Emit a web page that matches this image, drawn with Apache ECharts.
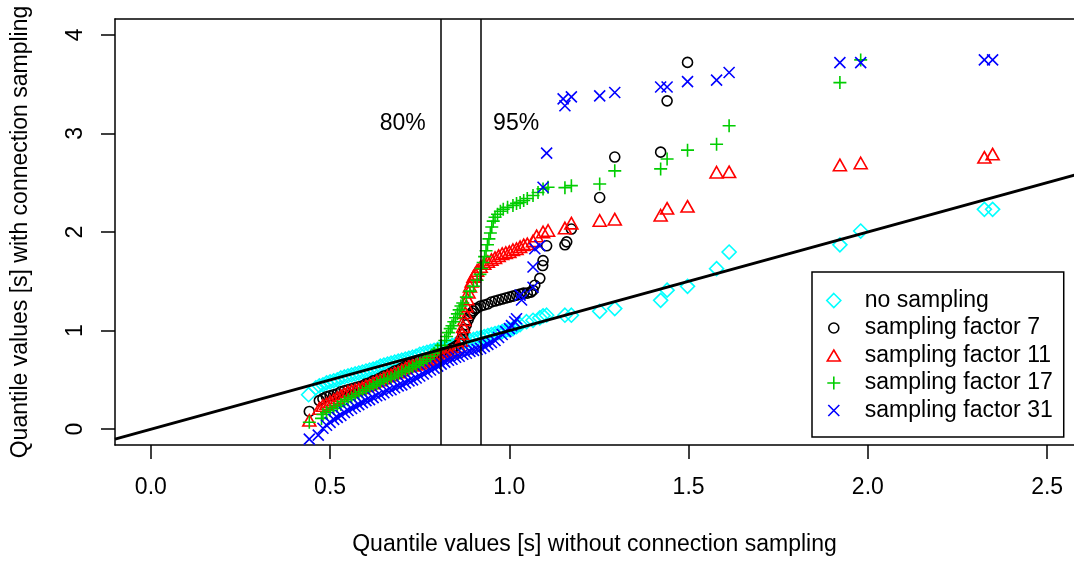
<!DOCTYPE html>
<html>
<head>
<meta charset="utf-8">
<script src="https://cdn.jsdelivr.net/npm/echarts@6/dist/echarts.min.js"></script>
<style>
  html, body { margin: 0; padding: 0; background: #fff; }
  #chart { width: 1074px; height: 561px; }
</style>
</head>
<body>
<div id="chart"></div>
<script>
// ---------------- data ----------------
const seriesNames = ['no sampling', 'sampling factor 7', 'sampling factor 11', 'sampling factor 17', 'sampling factor 31'];

const cyanX = [0.44, 0.46,0.47,0.48,0.49,0.50,0.51,0.52,0.53,0.54,0.55,0.56,0.57,0.58,0.59,0.60,0.61,0.62,0.63,0.64,0.65,0.66,0.67,0.68,0.69,0.70,0.71,0.72,0.73,0.74,0.75,0.76,0.77,0.78,0.79,0.80,0.81,0.82,0.83,0.84,0.85,0.86,0.87,0.88,0.89,0.90,0.91,0.92,0.93,0.94,0.95,0.96,0.97,0.98,0.99,1.00,1.01,1.02,1.03,1.048,1.066,1.085,1.094,1.104,1.155,1.173,1.252,1.294,1.422,1.44,1.497,1.578,1.613,1.922,1.98,2.325,2.348];
const cyanY = [0.35, 0.42,0.44,0.45,0.47,0.48,0.49,0.50,0.52,0.53,0.54,0.55,0.56,0.57,0.58,0.59,0.60,0.61,0.62,0.64,0.65,0.66,0.67,0.68,0.69,0.70,0.71,0.72,0.73,0.74,0.76,0.77,0.78,0.79,0.80,0.81,0.82,0.83,0.84,0.85,0.86,0.87,0.88,0.89,0.90,0.91,0.92,0.93,0.94,0.95,0.96,0.97,0.98,0.99,1.00,1.01,1.02,1.04,1.06,1.09,1.105,1.13,1.15,1.156,1.156,1.156,1.196,1.223,1.307,1.41,1.449,1.628,1.797,1.87,2.01,2.23,2.23];

const blackX = [0.442, 0.47,0.48,0.49,0.50,0.51,0.52,0.53,0.54,0.55,0.56,0.57,0.58,0.59,0.60,0.61,0.62,0.63,0.64,0.65,0.66,0.67,0.68,0.69,0.70,0.71,0.72,0.73,0.74,0.75,0.76,0.77,0.78,0.79,0.80,0.81,0.82,0.83,0.84,0.85,0.86,0.865,0.87,0.875,0.88,0.885,0.89,0.895,0.90,0.905,0.91,0.92,0.93,0.94,0.95,0.96,0.97,0.98,0.99,1.00,1.01,1.02,1.03,1.04,1.05,1.06,1.066,1.071,1.085,1.093,1.094,1.104,1.155,1.16,1.173,1.252,1.294,1.422,1.44,1.497];
const blackY = [0.18, 0.29,0.31,0.33,0.34,0.35,0.36,0.38,0.39,0.40,0.41,0.42,0.43,0.44,0.46,0.47,0.49,0.50,0.52,0.54,0.55,0.57,0.59,0.60,0.62,0.64,0.66,0.67,0.69,0.70,0.71,0.72,0.73,0.74,0.76,0.77,0.78,0.80,0.82,0.84,0.87,0.91,0.96,1.01,1.06,1.11,1.15,1.18,1.20,1.22,1.23,1.25,1.26,1.27,1.29,1.30,1.31,1.32,1.33,1.34,1.35,1.36,1.37,1.38,1.38,1.39,1.41,1.46,1.53,1.66,1.71,1.86,1.87,1.90,2.03,2.35,2.76,2.81,3.33,3.72];

const redX = [0.442, 0.47,0.48,0.49,0.50,0.51,0.52,0.53,0.54,0.55,0.56,0.57,0.58,0.59,0.60,0.61,0.62,0.63,0.64,0.65,0.66,0.67,0.68,0.69,0.70,0.71,0.72,0.73,0.74,0.75,0.76,0.77,0.78,0.79,0.80,0.81,0.82,0.83,0.84,0.85,0.86,0.865,0.868,0.871,0.874,0.877,0.88,0.883,0.886,0.89,0.895,0.90,0.905,0.91,0.92,0.93,0.94,0.95,0.96,0.97,0.98,0.99,1.00,1.01,1.02,1.03,1.04,1.05,1.066,1.076,1.094,1.108,1.155,1.173,1.252,1.294,1.422,1.44,1.497,1.578,1.613,1.922,1.98,2.325,2.348];
const redY = [0.09, 0.21,0.24,0.26,0.28,0.30,0.32,0.34,0.36,0.38,0.39,0.40,0.41,0.42,0.44,0.45,0.47,0.49,0.50,0.52,0.54,0.55,0.57,0.58,0.60,0.62,0.64,0.65,0.66,0.67,0.68,0.70,0.71,0.72,0.74,0.75,0.76,0.78,0.79,0.81,0.84,0.90,0.97,1.04,1.11,1.18,1.25,1.32,1.39,1.45,1.50,1.55,1.58,1.61,1.65,1.68,1.70,1.72,1.74,1.76,1.78,1.79,1.80,1.82,1.83,1.85,1.87,1.88,1.91,1.96,2.00,2.015,2.04,2.09,2.117,2.13,2.17,2.24,2.26,2.606,2.61,2.68,2.70,2.757,2.79];

const greenX = [0.442, 0.476,0.48,0.49,0.50,0.51,0.52,0.53,0.54,0.55,0.56,0.57,0.58,0.59,0.60,0.61,0.62,0.63,0.64,0.65,0.66,0.67,0.68,0.69,0.70,0.71,0.72,0.73,0.74,0.75,0.76,0.77,0.78,0.79,0.80,0.81,0.82,0.825,0.83,0.835,0.84,0.845,0.85,0.855,0.86,0.865,0.87,0.88,0.89,0.90,0.91,0.918,0.922,0.927,0.931,0.935,0.939,0.943,0.947,0.951,0.955,0.96,0.967,0.975,0.983,0.995,1.01,1.02,1.03,1.04,1.05,1.066,1.08,1.094,1.108,1.155,1.173,1.252,1.294,1.422,1.44,1.497,1.578,1.613,1.922,1.98];
const greenY = [0.07, 0.11,0.15,0.17,0.19,0.21,0.23,0.25,0.28,0.30,0.32,0.34,0.36,0.38,0.40,0.42,0.44,0.46,0.48,0.50,0.51,0.52,0.54,0.56,0.58,0.59,0.61,0.63,0.65,0.67,0.69,0.71,0.74,0.77,0.81,0.85,0.90,0.94,0.98,1.02,1.05,1.09,1.13,1.17,1.21,1.25,1.28,1.34,1.40,1.45,1.51,1.57,1.63,1.69,1.75,1.81,1.87,1.93,1.99,2.05,2.11,2.15,2.18,2.21,2.23,2.25,2.27,2.29,2.30,2.32,2.34,2.37,2.40,2.437,2.454,2.45,2.47,2.487,2.62,2.64,2.74,2.83,2.89,3.077,3.515,3.745];

const blueX = [0.442, 0.467,0.48,0.49,0.50,0.51,0.52,0.53,0.54,0.55,0.56,0.57,0.58,0.59,0.60,0.61,0.62,0.63,0.64,0.65,0.66,0.67,0.68,0.69,0.70,0.71,0.72,0.73,0.74,0.75,0.76,0.77,0.78,0.79,0.80,0.81,0.82,0.83,0.84,0.85,0.86,0.87,0.88,0.89,0.90,0.91,0.92,0.93,0.94,0.95,0.96,0.97,0.98,0.99,1.00,1.006,1.015,1.02,1.03,1.034,1.066,1.066,1.071,1.085,1.094,1.104,1.15,1.155,1.173,1.252,1.294,1.422,1.44,1.497,1.578,1.613,1.922,1.98,2.325,2.348];
const blueY = [-0.10, -0.06,0.01,0.04,0.07,0.10,0.12,0.14,0.17,0.19,0.21,0.23,0.25,0.27,0.29,0.30,0.32,0.34,0.35,0.37,0.39,0.40,0.42,0.44,0.45,0.47,0.49,0.50,0.52,0.54,0.56,0.58,0.60,0.62,0.64,0.66,0.68,0.70,0.71,0.73,0.74,0.76,0.77,0.79,0.80,0.81,0.82,0.84,0.86,0.88,0.90,0.93,0.96,0.99,1.02,1.05,1.09,1.12,1.36,1.31,1.44,1.645,1.83,1.86,2.454,2.80,3.35,3.28,3.37,3.38,3.415,3.47,3.47,3.525,3.54,3.617,3.718,3.718,3.745,3.745];

const refLineX = [-0.1, 2.6];           // abline(0, 1): y = x
const quantX = [0.806, 0.924];          // 80% and 95% quantiles
const quantLabels = ['80%', '95%'];
const quantLabelY = 3.1;
const xTicks = [0, 0.5, 1, 1.5, 2, 2.5];
const yTicks = [0, 1, 2, 3, 4];

// ---------------- chart ----------------
const FONT = 'Liberation Sans, Arial, Helvetica, sans-serif';
const zip = (xs, ys) => xs.map((x, i) => [x, ys[i]]);

const colors = ['#00FFFF', '#000000', '#FF0000', '#00CD00', '#0000FF'];
const symbols = [
  'diamond',
  'circle',
  'triangle',
  'path://M0,6.5L13,6.5M6.5,0L6.5,13',
  'path://M0,0L11,11M11,0L0,11'
];
const sizes = [[14, 14], 10, [13, 11.5], 13, 11];
const dataSets = [zip(cyanX, cyanY), zip(blackX, blackY), zip(redX, redY), zip(greenX, greenY), zip(blueX, blueY)];

const legendIcons = [
  'diamond',
  'path://M0,0M14,14M2,7a5,5 0 1,0 10,0a5,5 0 1,0 -10,0z',
  'path://M0,0M14,14M7,1.5L13.5,12.5L0.5,12.5Z',
  'path://M0,0M14,14M0.5,7L13.5,7M7,0.5L7,13.5',
  'path://M0,0M14,14M1.5,1.5L12.5,12.5M12.5,1.5L1.5,12.5'
];

const scatterSeries = seriesNames.map((name, i) => ({
  name,
  type: 'scatter',
  data: dataSets[i],
  symbol: symbols[i],
  symbolSize: sizes[i],
  silent: true,
  itemStyle: { color: 'rgba(0,0,0,0)', borderColor: colors[i], borderWidth: 1.6, opacity: 1 }
}));

const X_MIN = -0.1, X_MAX = 2.575;   // right edge of the picture cuts the plot box
const frameLine = { show: true, onZero: false, lineStyle: { color: '#000', width: 1.5 } };

const option = {
  animation: false,
  backgroundColor: '#ffffff',
  textStyle: { fontFamily: FONT, color: '#000' },
  grid: { left: 115, top: 19, right: 0, bottom: 114, show: false },
  xAxis: [{
    type: 'value', min: X_MIN, max: X_MAX,
    name: 'Quantile values [s] without connection sampling',
    nameLocation: 'middle', nameGap: 88,
    nameTextStyle: { fontSize: 23, color: '#000', fontFamily: FONT },
    axisLine: frameLine,
    axisTick: { show: true, length: 14, lineStyle: { color: '#000', width: 1.5 }, customValues: xTicks },
    axisLabel: { customValues: xTicks, formatter: v => v.toFixed(1), fontSize: 23, color: '#000', margin: 31, fontFamily: FONT },
    splitLine: { show: false }
  }, {
    type: 'value', min: X_MIN, max: X_MAX, position: 'top',
    axisLine: frameLine, axisTick: { show: false }, axisLabel: { show: false }, splitLine: { show: false }
  }],
  yAxis: {
    type: 'value', min: -0.16, max: 4.16,
    name: 'Quantile values [s] with connection sampling',
    nameLocation: 'middle', nameGap: 83,
    nameTextStyle: { fontSize: 23, color: '#000', fontFamily: FONT },
    axisLine: frameLine,
    axisTick: { show: true, length: 14, lineStyle: { color: '#000', width: 1.5 }, customValues: yTicks },
    axisLabel: { customValues: yTicks, formatter: v => String(v), rotate: 90, fontSize: 23, color: '#000', margin: 28, fontFamily: FONT },
    splitLine: { show: false }
  },
  legend: {
    orient: 'vertical', left: 812, top: 272,
    padding: [17, 11, 15, 14], itemGap: 4.5, itemWidth: 14, itemHeight: 14,
    borderColor: '#000', borderWidth: 1.5, borderRadius: 0, backgroundColor: '#fff',
    selectedMode: false,
    textStyle: { fontSize: 23, color: '#000', fontFamily: FONT, padding: [0, 0, 0, 19] },
    data: seriesNames.map((name, i) => ({
      name, icon: legendIcons[i],
      itemStyle: { color: 'rgba(0,0,0,0)', borderColor: colors[i], borderWidth: 1.6 }
    }))
  },
  series: [
    ...scatterSeries,
    {
      name: 'refline', type: 'line', data: refLineX.map(v => [v, v]),
      showSymbol: false, symbol: 'none', silent: true, z: 3,
      lineStyle: { color: '#000', width: 3 },
      markLine: {
        silent: true, symbol: ['none', 'none'], label: { show: false },
        lineStyle: { color: '#000', width: 1.5, type: 'solid' },
        data: quantX.map(v => ({ xAxis: v }))
      }
    },
    {
      name: 'quantlabels', type: 'scatter', silent: true, symbolSize: 0,
      itemStyle: { color: '#000' },
      data: quantX.map((v, i) => ({
        value: [v, quantLabelY],
        label: {
          show: true, formatter: quantLabels[i], position: i === 0 ? 'left' : 'right',
          distance: i === 0 ? 14 : 11, fontSize: 23, color: '#000', fontFamily: FONT,
          textBorderWidth: 0, opacity: 1
        }
      }))
    }
  ]
};

const chart = echarts.init(document.getElementById('chart'), null, { renderer: 'canvas' });
chart.setOption(option);
</script>
</body>
</html>
